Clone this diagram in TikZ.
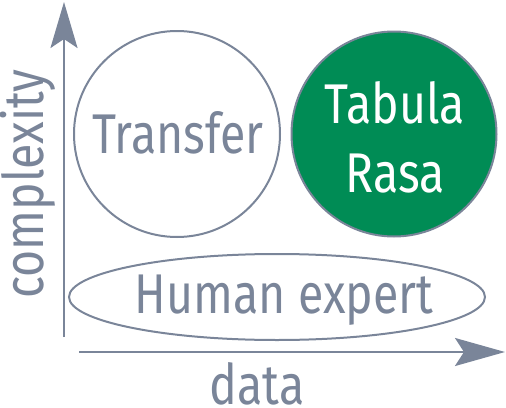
\documentclass[tikz,border=0pt]{standalone}
\usepackage{fontspec}
\setmainfont{Fira Sans}
\usetikzlibrary{arrows.meta,shapes.geometric}
\definecolor{axgray}{RGB}{122,133,153}
\definecolor{rasagreen}{RGB}{0,140,85}
\newcommand{\cond}[1]{\scalebox{0.83}[1]{#1}}
\begin{document}
\begin{tikzpicture}[x=1pt,y=-1pt,
  axis/.style={draw=axgray,line width=2.2pt},
  shapeline/.style={draw=axgray,line width=2pt},
  lbl/.style={text=axgray,font=\fontsize{56}{60}\selectfont,inner sep=0pt,anchor=base}]
\useasboundingbox (0,0) rectangle (506,407);
% circles
\node[shapeline,circle,minimum size=206pt,inner sep=0pt] (transfer) at (177,134) {};
\node[lbl] (transfert) at (178,153) {\cond{Transfer}};
\node[shapeline,circle,fill=rasagreen,minimum size=205pt,inner sep=0pt] (rasa) at (394,134) {};
\node[lbl,text=white] (tabulat) at (395,123) {\cond{Tabula}};
\node[lbl,text=white] (rasat) at (395,192) {\cond{Rasa}};
% ellipse
\node[shapeline,ellipse,minimum width=416pt,minimum height=86pt,inner sep=0pt] (human) at (277,297) {};
\node[lbl] (humant) at (284,313) {\cond{Human expert}};
% axes
\coordinate (yb) at (64,337);
\coordinate (yt) at (64,2);
\coordinate (xl) at (79,352);
\coordinate (xr) at (505,352);
\draw[axis,-{Stealth[length=46pt,width=27pt,inset=9pt]}] (yb) -- (yt);
\draw[axis,-{Stealth[length=50pt,width=28pt,inset=9pt]}] (xl) -- (xr);
\node[lbl] (data) at (257,404) {\cond{data}};
\node[lbl,rotate=90] (cplx) at (43,184) {\cond{complexity}};
\end{tikzpicture}
\end{document}
